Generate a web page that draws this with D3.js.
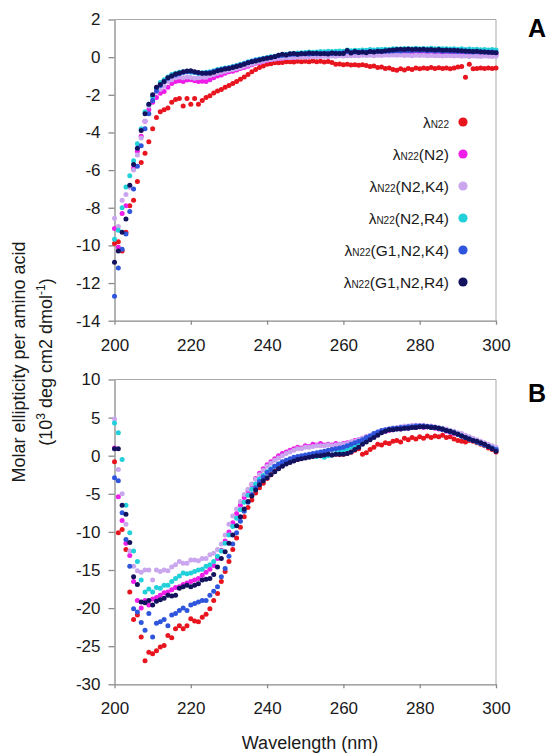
<!DOCTYPE html>
<html><head><meta charset="utf-8">
<script src="https://cdn.jsdelivr.net/npm/d3@7"></script>
<style>
body{margin:0;background:#fff}
text{font-family:"Liberation Sans",Arial,sans-serif}
</style>
</head><body>
<svg id="chart" width="556" height="756"></svg>
<script>
// ---------- DATA ----------
const wavelengths = d3.range(200, 301); // nm, 1 nm steps
const seriesKeys = ["N22","N2","N2K4","N2R4","G1K4","G1R4"];
const legendSub = ["N22","N22","N22","N22","N22","N22"];
const legendRest = ["","(N2)","(N2,K4)","(N2,R4)","(G1,N2,K4)","(G1,N2,R4)"];
const seriesColors = ["#e8141e","#ee1ee8","#c9a6ee","#22d0da","#2f55dc","#12125e"];
const xTicks = [200,220,240,260,280,300];
const yTicksA = [2,0,-2,-4,-6,-8,-10,-12,-14];
const yTicksB = [10,5,0,-5,-10,-15,-20,-25,-30];

// Panel A
const aN22 = [-9.9,-9.8,-10.3,-9.3,-7.9,-7.6,-6.6,-5.6,-5.1,-4.5,
-3.8,-3.2,-2.9,-2.8,-2.7,-2.4,-2.25,-2.2,-2.6,-2.2,
-2.5,-2.2,-2.5,-2.3,-2.15,-2.05,-1.9,-1.8,-1.72,-1.6,
-1.5,-1.4,-1.3,-1.18,-1.05,-0.92,-0.78,-0.65,-0.55,-0.47,
-0.38,-0.35,-0.3,-0.3,-0.28,-0.25,-0.24,-0.26,-0.22,-0.25,
-0.22,-0.24,-0.2,-0.25,-0.22,-0.26,-0.23,-0.28,-0.38,-0.36,
-0.4,-0.38,-0.42,-0.4,-0.43,-0.41,-0.45,-0.5,-0.47,-0.55,
-0.52,-0.6,-0.58,-0.65,-0.7,-0.62,-0.68,-0.6,-0.66,-0.58,
-0.62,-0.58,-0.6,-0.55,-0.6,-0.56,-0.6,-0.58,-0.62,-0.57,
-0.52,-0.5,-1.07,-0.38,-0.62,-0.6,-0.57,-0.6,-0.58,-0.6,
-0.58];
const aN2 = [-9.1,-10.1,-8.3,-7.9,-6.9,-5.9,-5.0,-4.2,-3.4,-2.8,
-2.4,-2.15,-1.92,-1.83,-1.6,-1.4,-1.3,-1.25,-1.3,-1.22,
-1.2,-1.25,-1.3,-1.28,-1.3,-1.2,-1.1,-1.0,-0.95,-0.85,
-0.78,-0.75,-0.68,-0.6,-0.55,-0.48,-0.4,-0.33,-0.28,-0.22,
-0.18,-0.14,-0.1,-0.08,-0.05,-0.03,0,-0.02,0.02,0.03,
0.02,0.05,0.04,0.06,0.05,0.08,0.06,0.1,0.08,0.1,
0.12,0.1,0.14,0.12,0.15,0.13,0.16,0.14,0.17,0.15,
0.18,0.16,0.2,0.18,0.2,0.22,0.19,0.21,0.2,0.22,
0.2,0.22,0.19,0.21,0.2,0.18,0.2,0.17,0.19,0.16,
0.18,0.15,0.17,0.14,0.16,0.13,0.15,0.12,0.14,0.12,
0.13];
const aN2K4 = [-8.56,-9.0,-7.6,-7.3,-6.9,-6.0,-5.2,-4.3,-3.4,-2.6,
-2.1,-1.85,-1.7,-1.55,-1.3,-1.2,-1.1,-1.05,-1.1,-1.05,
-1.08,-1.12,-1.1,-1.05,-1.05,-0.98,-0.92,-0.85,-0.8,-0.75,
-0.7,-0.66,-0.6,-0.55,-0.48,-0.42,-0.36,-0.3,-0.25,-0.2,
-0.15,-0.12,-0.1,-0.06,-0.05,-0.02,-0.03,0,-0.01,0.02,
0,0.03,0.02,0.04,0.03,0.05,0.04,0.06,0.05,0.07,
0.06,0.08,0.07,0.09,0.08,0.1,0.09,0.1,0.08,0.1,
0.09,0.11,0.1,0.12,0.1,0.11,0.09,0.1,0.08,0.1,
0.09,0.1,0.08,0.09,0.07,0.08,0.06,0.08,0.07,0.06,
0.07,0.05,0.06,0.04,0.06,0.05,0.04,0.06,0.05,0.04,
0.05];
const aN2R4 = [-9.67,-9.2,-8.0,-6.9,-6.3,-5.5,-4.6,-3.8,-2.9,-2.5,
-2.1,-1.65,-1.35,-1.2,-1.05,-0.92,-0.85,-0.8,-0.78,-0.75,
-0.8,-0.82,-0.85,-0.83,-0.8,-0.78,-0.72,-0.66,-0.62,-0.58,
-0.55,-0.5,-0.44,-0.38,-0.32,-0.25,-0.2,-0.14,-0.1,-0.06,
-0.02,0.02,0.05,0.1,0.12,0.15,0.18,0.2,0.22,0.24,
0.25,0.27,0.26,0.28,0.3,0.29,0.31,0.3,0.32,0.33,
0.32,0.38,0.34,0.36,0.35,0.38,0.37,0.4,0.38,0.41,
0.4,0.42,0.41,0.44,0.45,0.43,0.46,0.44,0.45,0.47,
0.45,0.46,0.44,0.47,0.45,0.46,0.44,0.45,0.43,0.44,
0.42,0.44,0.41,0.43,0.4,0.42,0.39,0.41,0.38,0.4,
0.38];
const aG1K4 = [-12.7,-11.2,-10.2,-9.4,-8.2,-7.0,-5.8,-4.7,-3.8,-3.0,
-2.3,-1.8,-1.5,-1.3,-1.12,-1.0,-0.95,-0.88,-0.82,-0.78,
-0.76,-0.8,-0.84,-0.86,-0.84,-0.82,-0.76,-0.7,-0.65,-0.6,
-0.57,-0.52,-0.47,-0.42,-0.35,-0.28,-0.22,-0.17,-0.12,-0.08,
-0.04,0,0.04,0.08,0.1,0.12,0.14,0.15,0.16,0.17,
0.18,0.17,0.19,0.18,0.2,0.19,0.21,0.2,0.22,0.21,
0.23,0.3,0.25,0.27,0.26,0.28,0.27,0.3,0.29,0.31,
0.3,0.32,0.31,0.33,0.34,0.33,0.35,0.34,0.35,0.36,
0.35,0.36,0.34,0.35,0.33,0.34,0.32,0.33,0.31,0.32,
0.3,0.31,0.29,0.3,0.28,0.29,0.27,0.28,0.26,0.27,
0.25];
const aG1R4 = [-10.9,-10.3,-9.3,-8.6,-6.8,-5.7,-4.84,-3.9,-3.0,-2.5,
-2.0,-1.6,-1.45,-1.3,-1.1,-1.0,-0.9,-0.84,-0.78,-0.74,
-0.72,-0.78,-0.82,-0.86,-0.85,-0.86,-0.8,-0.72,-0.68,-0.63,
-0.6,-0.55,-0.5,-0.45,-0.38,-0.3,-0.25,-0.2,-0.15,-0.1,
-0.06,-0.02,0.02,0.1,0.15,0.12,0.18,0.2,0.16,0.2,
0.18,0.22,0.19,0.21,0.18,0.2,0.17,0.22,0.19,0.2,
0.2,0.35,0.22,0.3,0.25,0.28,0.24,0.3,0.27,0.32,
0.3,0.34,0.36,0.38,0.4,0.42,0.4,0.43,0.41,0.42,
0.4,0.42,0.39,0.41,0.38,0.4,0.37,0.38,0.36,0.37,
0.35,0.34,0.33,0.32,0.3,0.31,0.29,0.28,0.26,0.25,
0.24];

// Panel B
const bN22 = [-0.8,-10.1,-9.7,-12.3,-17.9,-21.5,-20.9,-23.8,-26.9,-25.8,
-26.0,-25.6,-25.1,-24.9,-23.6,-23.9,-22.7,-22.3,-22.7,-22.3,
-21.4,-21.7,-21.8,-21.2,-20.8,-20.1,-19.0,-18.1,-16.5,-15.2,
-13.9,-12.3,-10.8,-9.4,-8.0,-6.8,-5.8,-4.9,-4.2,-3.6,
-3.0,-2.5,-2.0,-1.6,-1.3,-1.0,-0.8,-0.6,-0.5,-0.3,
-0.2,-0.1,0.0,0.05,0.1,0.1,0.15,0.1,0.2,0.15,
0.2,0.3,0.45,0.7,0.9,0.2,0.4,0.8,1.1,1.5,
1.4,1.7,1.6,1.9,2.0,1.8,2.3,2.1,2.4,2.2,
2.5,2.3,2.6,2.4,2.6,2.5,2.7,2.4,2.5,2.2,
2.0,1.9,1.8,2.0,1.9,1.7,1.5,1.3,1.0,0.8,
0.5];
const bN2 = [1.0,-5.4,-8.5,-11.5,-13.1,-16.5,-19.0,-20.0,-19.0,-19.6,
-18.8,-18.6,-18.3,-18.0,-17.9,-17.6,-17.3,-17.2,-16.9,-16.7,
-16.5,-16.3,-16.1,-15.7,-15.3,-14.9,-14.4,-13.5,-12.4,-11.2,
-10.0,-8.8,-7.6,-6.5,-5.5,-4.6,-3.8,-3.0,-2.3,-1.7,
-1.2,-0.8,-0.4,0.0,0.3,0.5,0.7,0.9,1.1,1.0,
1.3,1.2,1.5,1.4,1.6,1.4,1.5,1.4,1.6,1.5,
1.6,1.7,1.8,2.0,2.1,2.3,2.5,2.6,2.8,3.0,
3.1,3.2,3.3,3.4,3.5,3.5,3.6,3.6,3.7,3.7,
3.8,3.7,3.8,3.7,3.6,3.5,3.4,3.2,3.1,2.9,
2.8,2.6,2.4,2.3,2.1,1.9,1.7,1.5,1.3,1.1,
0.9];
const bN2K4 = [4.8,-1.8,-5.0,-9.0,-12.5,-14.5,-15.1,-15.3,-15.0,-15.0,
-16.3,-15.0,-15.2,-15.0,-15.1,-14.6,-14.3,-13.9,-14.1,-14.1,
-13.7,-13.7,-13.8,-13.5,-13.5,-13.0,-12.8,-12.3,-11.6,-10.4,
-9.0,-7.9,-7.0,-6.0,-5.1,-4.4,-3.7,-3.1,-2.5,-1.9,
-1.4,-1.0,-0.6,-0.3,0.0,0.3,0.5,0.7,0.9,0.9,
1.1,1.1,1.2,1.3,1.3,1.3,1.4,1.3,1.4,1.5,
1.5,1.6,1.8,1.9,2.1,2.3,2.5,2.7,2.9,3.1,
3.3,3.4,3.5,3.6,3.7,3.8,3.9,3.9,4.0,4.0,
4.0,4.0,3.9,3.9,3.8,3.7,3.6,3.5,3.3,3.2,
3.0,2.9,2.7,2.5,2.3,2.1,1.9,1.7,1.5,1.3,
1.1];
const bN2R4 = [4.3,3.0,-0.5,-6.5,-10.1,-12.5,-13.9,-16.3,-17.9,-17.5,
-17.9,-17.3,-17.4,-17.0,-17.0,-16.5,-16.1,-15.8,-15.4,-15.5,
-15.4,-15.2,-15.0,-14.9,-14.5,-14.3,-13.9,-13.2,-12.5,-11.5,
-10.4,-9.3,-8.2,-7.1,-6.1,-5.2,-4.4,-3.7,-3.1,-2.6,
-2.1,-1.7,-1.4,-1.1,-0.9,-0.7,-0.5,-0.4,-0.3,-0.2,
-0.1,-0.1,0.0,-0.1,0.0,-0.2,0.0,0.1,0.3,0.5,
0.7,0.9,1.1,1.3,1.6,1.9,2.2,2.5,2.8,3.0,
3.2,3.3,3.4,3.5,3.5,3.6,3.6,3.7,3.7,3.8,
3.8,3.8,3.8,3.7,3.7,3.6,3.5,3.3,3.2,3.0,
2.8,2.6,2.4,2.2,2.0,1.8,1.6,1.4,1.2,1.0,
0.8];
const bG1K4 = [-2.9,-3.3,-7.5,-11.0,-14.5,-20.1,-20.5,-21.9,-22.9,-20.7,
-23.8,-22.0,-21.8,-21.5,-22.3,-20.9,-20.7,-20.3,-20.0,-20.3,
-19.6,-19.4,-19.2,-19.0,-19.0,-18.3,-17.8,-17.2,-15.9,-14.8,
-13.2,-11.6,-10.1,-8.6,-7.3,-6.1,-5.1,-4.2,-3.4,-2.8,
-2.2,-1.8,-1.4,-1.1,-0.8,-0.6,-0.4,-0.2,-0.1,0.0,
0.1,0.2,0.3,0.4,0.5,0.6,0.7,0.8,0.9,1.0,
1.1,1.3,1.5,1.7,1.9,2.1,2.4,2.6,2.9,3.1,
3.3,3.4,3.5,3.6,3.6,3.7,3.7,3.8,3.8,3.9,
3.9,3.9,3.8,3.8,3.7,3.6,3.4,3.3,3.1,3.0,
2.8,2.6,2.4,2.2,2.0,1.8,1.6,1.4,1.2,1.0,
0.8];
const bG1R4 = [0.9,0.9,-6.5,-7.7,-11.4,-15.9,-16.9,-19.2,-19.3,-19.0,
-19.6,-19.1,-18.9,-18.7,-18.3,-18.4,-18.3,-17.4,-17.2,-17.0,
-17.2,-17.0,-16.8,-16.3,-16.2,-16.1,-15.6,-14.6,-13.5,-12.6,
-11.5,-10.4,-9.2,-8.0,-7.0,-6.0,-5.3,-4.5,-3.8,-3.3,
-2.9,-2.5,-2.1,-1.7,-1.4,-1.1,-0.9,-0.7,-0.5,-0.4,
-0.3,-0.2,-0.1,0.0,0.0,0.1,0.2,0.1,0.2,0.2,
0.2,0.3,0.5,0.8,1.1,1.5,1.8,2.1,2.4,2.7,
3.0,3.2,3.4,3.4,3.5,3.5,3.6,3.6,3.7,3.7,
3.8,3.8,3.8,3.7,3.7,3.6,3.5,3.3,3.2,3.0,
2.8,2.6,2.4,2.2,2.0,1.9,1.7,1.5,1.2,0.9,
0.6];

const panelAData = [aN22, aN2, aN2K4, aN2R4, aG1K4, aG1R4];
const panelBData = [bN22, bN2, bN2K4, bN2R4, bG1K4, bG1R4];

// ---------- DRAW ----------
const svg = d3.select("#chart");
const axisColor = "#8a8a8a";
const x = d3.scaleLinear().domain([200, 300]).range([114.5, 496]);
const yA = d3.scaleLinear().domain([-14, 2]).range([320.7, 19.5]);
const yB = d3.scaleLinear().domain([-30, 10]).range([684.3, 379.5]);

function panel(y, yTicks, data, label, labelY) {
  const g = svg.append("g");
  const [y0, y1] = y.range();
  g.append("path")
    .attr("d", `M${x.range()[0]},${y1}H${x.range()[1]}V${y0}`)
    .attr("fill", "none").attr("stroke", "#a8a8a8").attr("stroke-width", 1);

  const xAxis = d3.axisBottom(x).tickValues(xTicks).tickSize(4).tickSizeOuter(0).tickPadding(14);
  const gx = g.append("g").attr("transform", `translate(0,${y0})`).call(xAxis);
  const yAxis = d3.axisLeft(y).tickValues(yTicks).tickSize(6).tickSizeOuter(0).tickPadding(8)
    .tickFormat(d3.format("d"));
  const gy = g.append("g").attr("transform", `translate(${x.range()[0]},0)`).call(yAxis);
  [gx, gy].forEach(a => {
    a.select(".domain").attr("stroke", axisColor).attr("stroke-width", 1.3);
    a.selectAll(".tick line").attr("stroke", axisColor).attr("stroke-width", 1.3);
    a.selectAll(".tick text").attr("font-size", 17).attr("fill", "#1a1a1a")
      .attr("font-family", '"Liberation Sans", Arial, sans-serif');
  });
  gy.selectAll(".tick text").text(d => d < 0 ? "-" + Math.abs(d) : d);

  data.forEach((vals, i) => {
    g.append("g").selectAll("circle")
      .data(wavelengths.map((w, j) => [w, vals[j]]))
      .join("circle")
      .attr("cx", d => x(d[0]))
      .attr("cy", d => y(d[1]))
      .attr("r", 2.5)
      .attr("fill", seriesColors[i]);
  });

  svg.append("text").attr("x", 528).attr("y", labelY)
    .attr("font-size", 25).attr("font-weight", "bold").attr("fill", "#000").text(label);
}

panel(yA, yTicksA, panelAData, "A", 37);
panel(yB, yTicksB, panelBData, "B", 402);

// Legend (panel A)
const legendY = [122, 154, 186, 218, 250, 282];
const lg = svg.append("g");
seriesKeys.forEach((k, i) => {
  const t = lg.append("text").attr("x", 449).attr("y", legendY[i] + 5.5)
    .attr("text-anchor", "end").attr("font-size", 15.5).attr("fill", "#1a1a1a");
  t.append("tspan").text("λ");
  t.append("tspan").attr("font-size", 10).text(legendSub[i]);
  t.append("tspan").text(legendRest[i]);
  lg.append("circle").attr("cx", 463).attr("cy", legendY[i]).attr("r", 4.6)
    .attr("fill", seriesColors[i]);
});

// Axis titles
svg.append("text").attr("x", 310).attr("y", 749).attr("text-anchor", "middle")
  .attr("font-size", 18).attr("fill", "#1a1a1a").text("Wavelength (nm)");

const yl = svg.append("g").attr("transform", "translate(25,362) rotate(-90)");
yl.append("text").attr("x", 0).attr("y", 0).attr("text-anchor", "middle")
  .attr("font-size", 18).attr("fill", "#1a1a1a").text("Molar ellipticity per amino acid");
const t2 = yl.append("text").attr("x", 0).attr("y", 27).attr("text-anchor", "middle")
  .attr("font-size", 18).attr("fill", "#1a1a1a");
t2.append("tspan").text("(10");
t2.append("tspan").attr("font-size", 12).attr("dy", -7).text("3");
t2.append("tspan").attr("dy", 7).text(" deg cm2 dmol");
t2.append("tspan").attr("font-size", 12).attr("dy", -7).text("-1");
t2.append("tspan").attr("dy", 7).text(")");
</script>
</body></html>
